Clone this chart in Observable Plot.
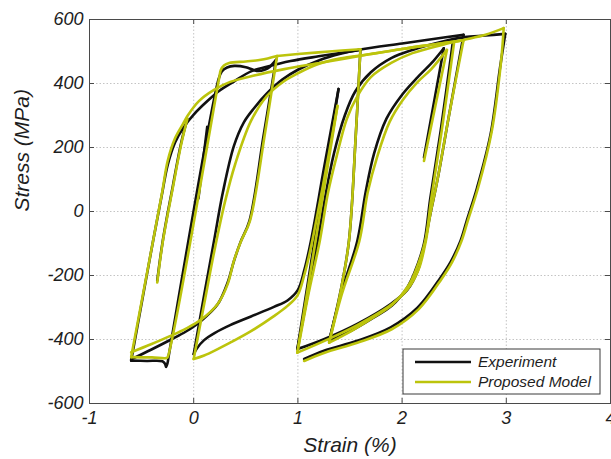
<!DOCTYPE html>
<html>
<head>
<meta charset="utf-8">
<script src="https://cdn.jsdelivr.net/npm/d3@7"></script>
<script src="https://cdn.jsdelivr.net/npm/@observablehq/plot@0.6"></script>
<style>
  html, body { margin: 0; padding: 0; background: #fff; }
  #chart { width: 611px; height: 459px; overflow: hidden; }
</style>
</head>
<body>
<div id="chart"></div>
<script>
// Axis ticks
const xTicks = [-1, 0, 1, 2, 3, 4];
const yTicks = [-600, -400, -200, 0, 200, 400, 600];

// Experiment branches: [strain %, stress MPa]
const expVirgin = [[-0.60,-466],[-0.45,-467],[-0.30,-468],[-0.275,-476],[-0.265,-486],[-0.25,-472],[-0.24,-452],[0.24,415],[0.27,438],[0.32,450],[0.39,455],[0.50,451],[0.57,443],[0.62,439],[0.68,443],[0.73,452],[0.79,474]];
const expStub = [[0.045,40],[0.13,265]];
const expUnload1 = [[0.79,474],[0.67,236],[0.535,-29],[0.45,-95],[0.386,-155],[0.326,-222],[0.23,-290],[0.07,-342],[-0.074,-375],[-0.217,-400],[-0.41,-432],[-0.60,-462]];
const expReload1 = [[-0.60,-466],[-0.39,-92],[-0.30,62],[-0.25,145],[-0.18,215],[-0.10,262],[0.00,303],[0.134,346],[0.25,378],[0.386,406],[0.55,438],[0.70,452],[0.93,470],[1.20,485],[1.60,505]];
const expTail = [[-0.35,-217],[-0.297,-92],[-0.20,80],[-0.12,215],[-0.06,290]];
const expSmallUp = [[0.995,-430],[1.39,383]];
const expUnload2 = [[1.39,383],[1.25,135],[1.125,-92],[1.06,-185],[1.00,-245],[0.90,-278],[0.77,-298],[0.55,-328],[0.35,-355],[0.20,-380],[0.10,-402],[0.03,-428],[0.00,-446]];
const expReload2 = [[0.00,-446],[0.10,-262],[0.195,-92],[0.28,60],[0.386,205],[0.48,278],[0.577,322],[0.70,368],[0.85,412],[1.00,443],[1.20,472],[1.40,492],[1.60,506],[2.00,525],[2.30,539],[2.59,552]];
const expDrop = [[1.60,505],[1.555,236],[1.49,-92],[1.41,-248],[1.30,-404]];
const expReloadA = [[0.995,-430],[1.10,-250],[1.19,-92],[1.27,60],[1.345,180],[1.45,300],[1.55,375],[1.70,435],[1.90,480],[2.10,505],[2.40,532],[2.60,545],[2.80,550],[2.99,555]];
const expReloadB = [[1.30,-405],[1.42,-250],[1.57,-92],[1.65,60],[1.73,180],[1.85,290],[2.00,365],[2.15,420],[2.30,470],[2.40,510]];
const expEnd = [[2.40,510],[2.21,169]];
const expUnloadA = [[2.59,552],[2.45,300],[2.34,100],[2.27,-10],[2.21,-110],[2.15,-185],[2.05,-245],[1.89,-289],[1.57,-351],[1.25,-399],[0.995,-430]];
const expUnloadB = [[2.49,537],[2.37,252],[2.27,40],[2.21,-100],[2.12,-190],[2.05,-237],[1.90,-295],[1.73,-331],[1.51,-373],[1.30,-403]];
const expUnloadC = [[2.99,555],[2.94,450],[2.85,243],[2.72,75],[2.62,-29],[2.56,-92],[2.47,-155],[2.37,-206],[2.15,-300],[1.89,-362],[1.57,-404],[1.25,-435],[1.06,-461]];

// Proposed model branches: [strain %, stress MPa]
const modVirgin = [[-0.60,-455],[-0.40,-456],[-0.26,-458],[-0.25,-455],[0.245,418],[0.26,442],[0.29,456],[0.34,464],[0.50,469],[0.645,474],[0.80,486]];
const modUnload1 = [[0.80,486],[0.68,236],[0.54,-29],[0.455,-92],[0.386,-154],[0.326,-227],[0.23,-289],[0.07,-338],[-0.074,-366],[-0.217,-388],[-0.41,-415],[-0.60,-440]];
const modReload1 = [[-0.60,-455],[-0.39,-92],[-0.30,65],[-0.25,158],[-0.18,228],[-0.10,275],[-0.057,300],[0.05,345],[0.195,380],[0.35,405],[0.58,425],[0.87,445],[1.22,465],[1.70,492],[2.00,508],[2.30,522],[2.59,535]];
const modTail = [[-0.35,-222],[-0.297,-95],[-0.20,75],[-0.12,210],[-0.06,290]];
const modSmallUp = [[0.995,-441],[1.38,330]];
const modUnload2 = [[1.38,330],[1.24,80],[1.12,-120],[1.06,-200],[0.997,-262],[0.90,-295],[0.77,-327],[0.55,-374],[0.35,-410],[0.23,-430],[0.10,-450],[0.00,-461]];
const modReload2 = [[0.00,-461],[0.10,-290],[0.20,-120],[0.30,30],[0.40,150],[0.55,283],[0.70,360],[0.87,408],[1.00,432],[1.19,460],[1.40,478],[1.70,492],[2.00,508],[2.30,522],[2.59,535]];
const modTop = [[0.80,486],[1.00,492],[1.30,500],[1.60,507]];
const modDrop = [[1.60,507],[1.555,236],[1.49,-92],[1.41,-250],[1.30,-410]];
const modReloadA = [[0.995,-441],[1.10,-260],[1.21,-92],[1.29,60],[1.37,170],[1.47,290],[1.57,360],[1.70,420],[1.90,465],[2.10,495],[2.40,522],[2.59,536],[2.80,552],[2.975,573]];
const modReloadB = [[1.30,-410],[1.42,-260],[1.59,-92],[1.67,60],[1.76,170],[1.88,280],[2.01,350],[2.15,405],[2.28,445],[2.43,505]];
const modEnd = [[2.43,505],[2.21,158]];
const modUnloadA = [[2.59,536],[2.45,300],[2.34,100],[2.27,-10],[2.22,-105],[2.16,-180],[2.06,-240],[1.90,-290],[1.57,-355],[1.25,-405],[0.995,-441]];
const modUnloadB = [[2.50,530],[2.38,252],[2.28,40],[2.22,-95],[2.13,-185],[2.06,-232],[1.91,-290],[1.74,-328],[1.52,-372],[1.30,-410]];
const modUnloadC = [[2.975,573],[2.95,470],[2.86,250],[2.73,75],[2.63,-29],[2.57,-92],[2.48,-158],[2.38,-210],[2.16,-305],[1.90,-368],[1.57,-410],[1.25,-442],[1.06,-467]];

const seriesNames = ["Experiment", "Proposed Model"];
const seriesColors = ["#111111", "#bcc40c"];

const expBranches = [expVirgin, expStub, expUnload1, expReload1, expTail, expSmallUp, expUnload2, expReload2, expDrop, expReloadA, expReloadB, expEnd, expUnloadA, expUnloadB, expUnloadC];
const modBranches = [modVirgin, modUnload1, modReload1, modTail, modSmallUp, modUnload2, modReload2, modTop, modDrop, modReloadA, modReloadB, modEnd, modUnloadA, modUnloadB, modUnloadC];

function toRows(branches, series) {
  const rows = [];
  branches.forEach((b, i) => b.forEach(([strain, stress]) => rows.push({series, branch: series + i, strain, stress})));
  return rows;
}
const expRows = toRows(expBranches, seriesNames[0]);
const modRows = toRows(modBranches, seriesNames[1]);

const W = 611, H = 459;
const mL = 89, mR = 1, mT = 19, mB = 56;
const innerW = W - mL - mR, innerH = H - mT - mB;
const font = "'Liberation Sans', Arial, sans-serif";
const frameColor = "#4a4a4a";
const textColor = "#1e1e1e";

const lineOpts = {x: "strain", y: "stress", z: "branch", strokeWidth: 2.6, curve: "catmull-rom", strokeLinejoin: "round", strokeLinecap: "round"};

const chart = Plot.plot({
  width: W, height: H,
  marginLeft: mL, marginRight: mR, marginTop: mT, marginBottom: mB,
  style: {fontFamily: font, background: "#fff", color: textColor},
  x: {domain: [xTicks[0], xTicks[xTicks.length - 1]]},
  y: {domain: [yTicks[0], yTicks[yTicks.length - 1]]},
  marks: [
    Plot.gridX(xTicks, {stroke: "#c4c4c4", strokeOpacity: 1, strokeWidth: 1, strokeDasharray: "1.5,2"}),
    Plot.gridY(yTicks, {stroke: "#c4c4c4", strokeOpacity: 1, strokeWidth: 1, strokeDasharray: "1.5,2"}),
    Plot.line(expRows, {...lineOpts, stroke: seriesColors[0]}),
    Plot.line(modRows, {...lineOpts, stroke: seriesColors[1]}),
    Plot.frame({stroke: frameColor, strokeWidth: 1}),
    // inward tick marks on all four sides
    Plot.ruleX(xTicks, {x: d => d, stroke: frameColor, insetTop: innerH - 5}),
    Plot.ruleX(xTicks, {x: d => d, stroke: frameColor, insetBottom: innerH - 5}),
    Plot.ruleY(yTicks, {y: d => d, stroke: frameColor, insetRight: innerW - 5}),
    Plot.ruleY(yTicks, {y: d => d, stroke: frameColor, insetLeft: innerW - 5}),
    Plot.axisX(xTicks, {tickSize: 0, tickPadding: 8, fontSize: 18, fontStyle: "italic", fill: textColor, label: null, tickFormat: d => String(d)}),
    Plot.axisY(yTicks, {tickSize: 0, tickPadding: 6, fontSize: 18, fontStyle: "italic", fill: textColor, label: null, tickFormat: d => String(d)}),
    Plot.text(["Strain (%)"], {frameAnchor: "bottom", dy: 42, fontSize: 21, fontStyle: "italic", fill: textColor, lineAnchor: "middle"}),
    Plot.text(["Stress (MPa)"], {frameAnchor: "left", dx: -67, rotate: -90, fontSize: 21, fontStyle: "italic", fill: textColor, lineAnchor: "middle"})
  ]
});

// Legend box in the lower-right corner of the frame
const svg = d3.select(chart);
const legW = 197, legH = 45;
const legX = W - mR - 10 - legW, legY = H - mB - 9 - legH;
const leg = svg.append("g").attr("font-family", font).attr("text-anchor", "start");
leg.append("rect").attr("x", legX).attr("y", legY).attr("width", legW).attr("height", legH)
  .attr("fill", "#fff").attr("stroke", "#3a3a3a").attr("stroke-width", 1);
seriesNames.forEach((name, i) => {
  const cy = legY + 13 + i * 20;
  leg.append("line").attr("x1", legX + 12).attr("x2", legX + 68).attr("y1", cy).attr("y2", cy)
    .attr("stroke", seriesColors[i]).attr("stroke-width", 2.6);
  leg.append("text").attr("x", legX + 75).attr("y", cy).attr("dy", "0.35em")
    .attr("text-anchor", "start").attr("font-size", 15.5).attr("font-style", "italic")
    .attr("fill", textColor).text(name);
});

document.getElementById("chart").appendChild(chart);
</script>
</body>
</html>
